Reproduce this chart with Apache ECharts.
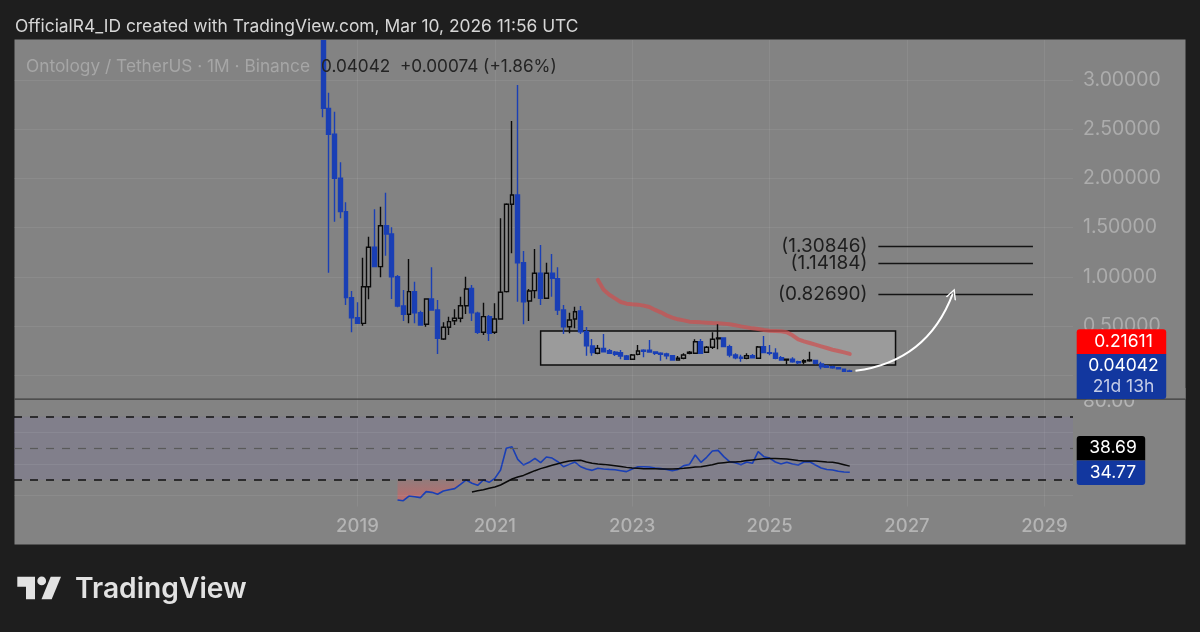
<!DOCTYPE html>
<html>
<head>
<meta charset="utf-8">
<script src="https://cdn.jsdelivr.net/npm/echarts@6/dist/echarts.min.js"></script>
<style>
  html, body { margin: 0; background: #1e1e1e; }
  #chart { width: 1200px; height: 632px; }
</style>
</head>
<body>
<div id="chart"></div>
<script>
// monthly bars, first candle is 2018-07 (its top runs off the pane)
const firstCandle = 54;
const candleOpen = [
  3.4,2.712,2.448,2.001,1.662,.788,.584,.527,.899,1.300,
  1.103,1.519,1.435,1.001,.703,.619,.849,.635,.517,.774,
  .663,.368,.487,.554,.578,.706,.882,.629,.436,.595,
  .436,.571,.849,1.737,1.831,1.143,.754,.859,1.036,.782,
  1.036,.98,.663,.493,.571,.652,.442,.296,.223,.273,
  .249,.233,.229,.195,.162,.212,.253,.253,.236,.223,
  .215,.198,.154,.172,.223,.223,.340,.233,.284,.371,
  .378,.290,.205,.182,.172,.198,.172,.290,.229,.223,
  .178,.154,.162,.137,.134,.147,.151,.114,.093,.086,
  .076,.060,.0425
];
const candleClose = [
  2.712,2.448,2.001,1.662,.788,.584,.527,.899,1.300,1.103,
  1.519,1.435,1.001,.703,.619,.849,.635,.510,.774,.663,
  .375,.487,.544,.578,.706,.876,.635,.436,.595,.426,
  .571,.843,1.737,1.831,1.143,.747,.856,1.036,.782,1.036,
  .985,.663,.493,.561,.645,.442,.300,.229,.273,.239,
  .223,.212,.195,.162,.205,.246,.243,.236,.223,.212,
  .198,.154,.172,.205,.233,.340,.223,.284,.365,.378,
  .290,.205,.178,.172,.198,.178,.287,.229,.223,.172,
  .154,.162,.137,.127,.147,.154,.121,.086,.080,.076,
  .066,.0397,.04042
];
const candleLow = [
  2.621,1.042,1.560,1.595,.713,.436,.52,.503,.771,1.097,
  .995,1.214,.774,.690,.551,.527,.527,.503,.493,.656,
  .215,.358,.409,.510,.538,.622,.551,.419,.409,.348,
  .419,.565,.84,1.239,.747,.517,.551,.782,.713,.774,
  .798,.612,.419,.426,.477,.419,.198,.198,.212,.233,
  .215,.195,.162,.154,.154,.202,.182,.229,.205,.147,
  .162,.147,.150,.162,.212,.215,.215,.225,.266,.263,
  .284,.182,.162,.137,.162,.172,.165,.223,.202,.162,
  .147,.111,.127,.111,.111,.137,.111,.060,.073,.066,
  .063,.037,.039
];
const candleHigh = [
  3.4,2.871,2.678,2.164,1.757,.856,.741,1.194,1.408,1.686,
  1.712,1.855,1.503,1.018,.866,1.181,.950,.656,.782,1.097,
  .764,.538,.595,.670,.798,1.001,.917,.645,.737,.612,
  .731,1.595,1.747,2.583,2.949,1.262,.876,1.283,1.323,1.143,
  1.232,1.097,.713,.635,.696,.703,.490,.368,.307,.419,
  .266,.246,.256,.205,.215,.307,.263,.358,.24,.233,
  .229,.205,.195,.223,.246,.365,.368,.297,.436,.517,
  .385,.310,.223,.208,.223,.215,.297,.398,.307,.273,
  .195,.164,.182,.147,.162,.239,.154,.137,.104,.097,
  .080,.068,.055
];

// moving average on the price pane, starts 2022-07
const maStart = 102;
const maValues = [
  .968,.869,.818,.781,.744,.727,.720,.717,.707,.693,
  .663,.639,.608,.585,.568,.557,.544,.541,.537,.534,
  .530,.527,.524,.517,.507,.496,.486,.476,.469,.459,
  .452,.449,.446,.436,.405,.364,.344,.327,.310,.293,
  .276,.259,.246,.232,.21611
];

// rsi and its average
const rsiStart = 67;
const rsiValues = [
  17.2,16.75,19.7,19.3,18.7,22.5,22.05,20.8,22.9,23.7,
  24.4,27.1,29.9,27.8,26.5,29.9,28.4,30.9,36.2,50,
  51,43,39.4,41.1,43.6,40.9,44.5,43.8,41.5,38.3,
  39.8,41.3,38.3,36.9,36,37.3,36.9,36.6,36.4,35.8,
  35.2,36.9,38.3,38.3,38.1,37.5,37.1,36.6,35.8,36.6,
  39,39.8,45.75,41.1,44.3,48.3,48.7,44.7,41.5,40.9,
  39.6,41.3,40.5,47.9,44.7,43.8,41.3,40,41.1,40,
  39.4,41.3,41.5,39.4,37.5,36.6,36.2,35.4,34.95,34.77
];
const rsiMaStart = 80;
const rsiMaValues = [
  22.3,23.1,23.7,24.6,25.4,26.7,28.6,30.5,31.8,32.8,
  34.3,35.8,37.1,38.1,39.2,40.2,41.1,41.9,42.2,42.4,
  41.3,40.5,40,39.8,39.4,39,38.5,37.9,37.5,37.3,
  37.1,37.1,37.1,36.9,36.9,36.9,37.1,37.3,37.7,38.1,
  38.3,39,39.6,40.5,40.9,41.3,41.3,41.7,42.2,42.6,
  43,43.4,43.6,43.6,43.4,43.2,42.8,42.2,41.9,41.9,
  41.9,41.7,41.3,41.1,40.5,39.6,38.69
];

const levelValues = [1.30846, 1.14184, 0.8269];
const levelLabels = ['(1.30846)', '(1.14184)', '(0.82690)'];
const priceTicks = [0, 0.5, 1, 1.5, 2, 2.5, 3];

const months = [];
for (let y = 2014; y <= 2029; y++) {
  for (let m = 1; m <= 12; m++) {
    if (y === 2029 && m > 6) break;
    months.push(y + '-' + String(m).padStart(2, '0'));
  }
}

const FONT = 'Inter, "Noto Sans", sans-serif';
const GRID_LINE = 'rgba(255,255,255,0.07)';
const BLUE = '#12379f';
const CANDLE_BLUE = '#1a3fb5';
const PANEL = '#838383';

// only odd years from 2019 carry a label and a grid line
const isLabelYear = (i, v) => v.endsWith('-01') && parseInt(v) >= 2019 && parseInt(v) % 2 === 1;

const candles = new Array(firstCandle).fill('-').concat(
  candleOpen.map((o, i) => [o, candleClose[i], candleLow[i], candleHigh[i]])
);
const withIndex = (start, arr) => arr.map((v, i) => [start + i, v]);

// oversold fill, only the start of the rsi sits under 30
const oversold = rsiValues.slice(0, 18);
const oversoldBase = oversold.map(v => Math.min(v, 30));
const oversoldGap = oversoldBase.map(v => 30 - v);

function rect(x, y, w, h, fill, r, z) {
  return { type: 'rect', silent: true, z: z, shape: { x, y, width: w, height: h, r: r || 0 }, style: { fill } };
}
function tagText(x, y, text, color) {
  return { type: 'text', silent: true, z: 101, x, y, style: { text, fill: color || '#fff', font: '17.5px ' + FONT, textAlign: 'center', textVerticalAlign: 'middle' } };
}

const chart = echarts.init(document.getElementById('chart'));
chart.setOption({
  animation: false,
  backgroundColor: '#1e1e1e',
  title: [
    { text: 'OfficialR4_ID created with TradingView.com, Mar 10, 2026 11:56 UTC', left: 15, top: 18, padding: 0, textStyle: { color: '#d6d6d6', fontFamily: FONT, fontSize: 17.4, fontWeight: 400 } },
    { text: 'Ontology / TetherUS · 1M · Binance', left: 26, top: 58, padding: 0, textStyle: { color: '#a6a6a6', fontFamily: FONT, fontSize: 17.3, fontWeight: 400 } },
    { text: '0.04042  +0.00074 (+1.86%)', left: 321, top: 58, padding: 0, z: 20, textStyle: { color: '#242424', fontFamily: FONT, fontSize: 17.2, fontWeight: 400 } },
    { text: 'TradingView', left: 75, top: 576, padding: 0, textStyle: { color: '#e2e2e2', fontFamily: FONT, fontSize: 28.2, fontWeight: 600 } }
  ],
  grid: [
    { left: 14, right: 127, top: 40, height: 359 },
    { left: 14, right: 127, top: 399, height: 107.6 }
  ],
  xAxis: [
    { type: 'category', gridIndex: 0, data: months, boundaryGap: false,
      axisLine: { show: false }, axisTick: { show: false }, axisLabel: { show: false },
      splitLine: { show: true, interval: isLabelYear, lineStyle: { color: GRID_LINE } } },
    { type: 'category', gridIndex: 1, data: months, boundaryGap: false,
      axisLine: { show: false }, axisTick: { show: false },
      axisLabel: { interval: isLabelYear, formatter: v => v.slice(0, 4), color: '#b4b4b4', fontFamily: FONT, fontSize: 18.5, fontWeight: 500, margin: 10 },
      splitLine: { show: true, interval: isLabelYear, lineStyle: { color: GRID_LINE } } }
  ],
  yAxis: [
    { type: 'value', gridIndex: 0, position: 'right', min: -0.2419, max: 3.4065,
      axisLine: { show: false },
      axisTick: { show: false, customValues: priceTicks },
      axisLabel: { customValues: priceTicks, formatter: v => v.toFixed(5), color: '#acacac', fontFamily: FONT, fontSize: 19.4, margin: 10, padding: [4, 0, 0, 0] },
      splitLine: { show: true, lineStyle: { color: GRID_LINE } } },
    { type: 'value', gridIndex: 1, position: 'right', min: 13, max: 81.3,
      axisLine: { show: false },
      axisTick: { show: false, customValues: [80] },
      axisLabel: { customValues: [80], formatter: v => v.toFixed(2), color: '#b4b4b4', fontFamily: FONT, fontSize: 19, margin: 10 },
      splitLine: { show: false } }
  ],
  series: [
    // range box behind the candles
    { name: 'Box', type: 'line', xAxisIndex: 0, yAxisIndex: 0, z: 1, silent: true,
      data: [[92, 0.449], [154, 0.104]], showSymbol: false, lineStyle: { opacity: 0 },
      markArea: { silent: true, itemStyle: { color: 'rgba(255,255,255,0.2)', borderColor: '#0c0c0c', borderWidth: 1.5 },
        data: [[{ coord: [92, 0.449] }, { coord: [154, 0.104] }]] } },
    { name: 'MA', type: 'line', xAxisIndex: 0, yAxisIndex: 0, z: 2, silent: true,
      data: withIndex(maStart, maValues), showSymbol: false,
      lineStyle: { color: 'rgba(205,80,80,0.72)', width: 4, cap: 'round' } },
    { name: 'Price', type: 'candlestick', xAxisIndex: 0, yAxisIndex: 0, z: 3, silent: true,
      data: candles, barWidth: 4.4,
      itemStyle: { color: 'rgba(150,150,150,0.35)', color0: CANDLE_BLUE, borderColor: '#0a0a0a', borderColor0: CANDLE_BLUE, borderWidth: 1.4 } },
    { name: 'Levels', type: 'line', xAxisIndex: 0, yAxisIndex: 0, z: 4, silent: true,
      data: levelValues.map(v => [151, v]), showSymbol: false, lineStyle: { opacity: 0 },
      markLine: { silent: true, symbol: 'none',
        lineStyle: { color: '#141414', width: 1.4, type: 'solid' },
        label: { show: true, position: 'start', distance: 11, color: '#1e1e1e', fontFamily: FONT, fontSize: 19 },
        data: levelValues.map((v, i) => [
          { coord: [151, v], label: { formatter: levelLabels[i] } },
          { coord: [178, v] }
        ]) } },
    { name: 'Arrow', type: 'lines', coordinateSystem: 'cartesian2d', xAxisIndex: 0, yAxisIndex: 0, z: 5, silent: true,
      symbol: ['none', 'path://M0 10 L5 0 L10 10 L8.6 10 L5 2.8 L1.4 10 Z'], symbolSize: 11,
      lineStyle: { color: '#ffffff', width: 2, curveness: -0.3, opacity: 1 },
      data: [{ coords: [[147, 0.045], [164, 0.83]] }] },

    // rsi pane
    { name: 'Oversold base', type: 'line', xAxisIndex: 1, yAxisIndex: 1, stack: 'os', silent: true, z: 2,
      data: withIndex(rsiStart, oversoldBase), showSymbol: false, lineStyle: { opacity: 0 } },
    { name: 'Oversold', type: 'line', xAxisIndex: 1, yAxisIndex: 1, stack: 'os', silent: true, z: 2,
      data: withIndex(rsiStart, oversoldGap), showSymbol: false, lineStyle: { opacity: 0 },
      areaStyle: { color: new echarts.graphic.LinearGradient(0, 0, 0, 1, [
        { offset: 0, color: 'rgba(220,90,90,0.25)' }, { offset: 1, color: 'rgba(225,95,95,0.9)' }
      ]) } },
    { name: 'RSI', type: 'line', xAxisIndex: 1, yAxisIndex: 1, z: 4, silent: true,
      data: withIndex(rsiStart, rsiValues), showSymbol: false, lineStyle: { color: CANDLE_BLUE, width: 1.6 },
      markArea: { silent: true, itemStyle: { color: 'rgba(118,98,190,0.13)' }, data: [[{ yAxis: 70 }, { yAxis: 30 }]] },
      markLine: { silent: true, symbol: 'none', label: { show: false },
        data: [
          { yAxis: 70, lineStyle: { color: '#111', width: 1.5, type: [8, 8] } },
          { yAxis: 50, lineStyle: { color: '#5a5a5a', width: 1.2, type: [8, 8] } },
          { yAxis: 30, lineStyle: { color: '#111', width: 1.5, type: [8, 8] } },
          { yAxis: 60, lineStyle: { color: GRID_LINE, width: 1, type: 'solid' } },
          { yAxis: 40, lineStyle: { color: GRID_LINE, width: 1, type: 'solid' } },
          { yAxis: 20, lineStyle: { color: GRID_LINE, width: 1, type: 'solid' } }
        ] } },
    { name: 'RSI MA', type: 'line', xAxisIndex: 1, yAxisIndex: 1, z: 5, silent: true,
      data: withIndex(rsiMaStart, rsiMaValues), showSymbol: false, lineStyle: { color: '#0a0a0a', width: 1.5 } }
  ],
  graphic: { elements: [
    rect(14.5, 39.5, 1171, 505, PANEL, 0, -10),
    rect(1076, 388, 109.5, 11, PANEL, 0, 90),
    rect(14.5, 398.5, 1171, 1.3, '#3c3c3c', 0, 91),

    // last value tags
    rect(1076.7, 329.3, 89.5, 25, '#ff0000', [3, 3, 0, 0], 100),
    rect(1076.7, 354, 89.5, 45, BLUE, [0, 0, 3, 0], 100),
    tagText(1123.5, 341.7, '0.21611'),
    tagText(1123.5, 366, '0.04042'),
    tagText(1123.5, 387, '21d 13h', '#c3cbe6'),
    rect(1076.7, 436, 68.5, 24.5, '#000000', [3, 3, 0, 0], 100),
    rect(1076.7, 460.5, 68.5, 24.5, BLUE, [0, 0, 3, 3], 100),
    tagText(1113, 448, '38.69'),
    tagText(1113, 473, '34.77'),

    // tradingview mark
    { type: 'polygon', silent: true, z: 5, shape: { points: [[17.3, 576.7], [35, 576.7], [35, 599.3], [26, 599.3], [26, 586.7], [17.3, 586.7]] }, style: { fill: '#e2e2e2' } },
    { type: 'circle', silent: true, z: 5, shape: { cx: 41.7, cy: 580.9, r: 4.4 }, style: { fill: '#e2e2e2' } },
    { type: 'polygon', silent: true, z: 5, shape: { points: [[50.7, 576.7], [61, 576.7], [51.7, 599.3], [41.5, 599.3]] }, style: { fill: '#e2e2e2' } }
  ] }
});
</script>
</body>
</html>
